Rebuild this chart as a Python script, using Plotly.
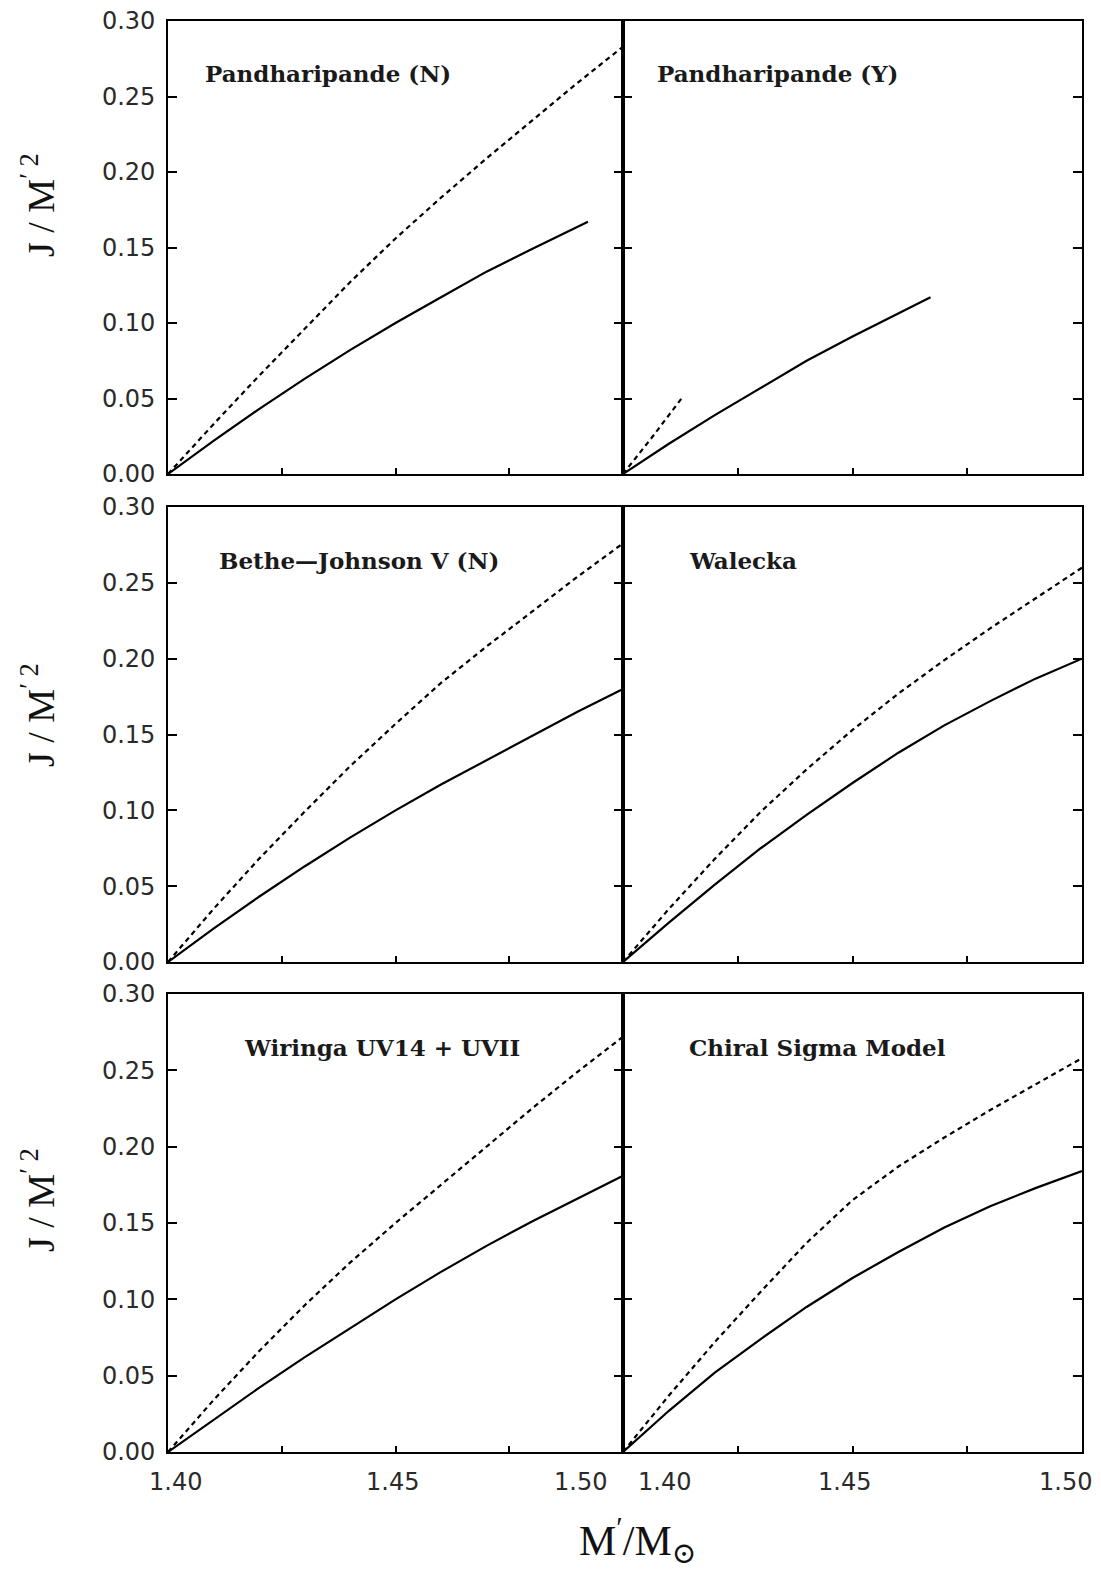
import plotly.graph_objects as go

# ---------------- data ----------------
x_full = [1.40, 1.41, 1.42, 1.43, 1.44, 1.45, 1.46, 1.47, 1.48, 1.49, 1.50]

# Pandharipande (N)
pn_dash_x = x_full
pn_dash_y = [0.000, 0.033, 0.065, 0.096, 0.127, 0.156, 0.183, 0.209, 0.234, 0.259, 0.283]
pn_solid_x = [1.40, 1.41, 1.42, 1.43, 1.44, 1.45, 1.46, 1.47, 1.48, 1.4923]
pn_solid_y = [0.000, 0.022, 0.043, 0.063, 0.082, 0.100, 0.117, 0.134, 0.149, 0.167]

# Pandharipande (Y)
py_dash_x = [1.40, 1.4065, 1.413]
py_dash_y = [0.000, 0.025, 0.051]
py_solid_x = [1.40, 1.41, 1.42, 1.43, 1.44, 1.45, 1.46, 1.467]
py_solid_y = [0.000, 0.020, 0.039, 0.057, 0.075, 0.091, 0.106, 0.117]

# Bethe-Johnson V (N)
bj_dash_x = x_full
bj_dash_y = [0.000, 0.035, 0.068, 0.099, 0.129, 0.157, 0.184, 0.208, 0.231, 0.254, 0.276]
bj_solid_x = x_full
bj_solid_y = [0.000, 0.022, 0.043, 0.063, 0.082, 0.100, 0.117, 0.133, 0.149, 0.165, 0.180]

# Walecka
wa_dash_x = x_full
wa_dash_y = [0.000, 0.035, 0.068, 0.099, 0.127, 0.153, 0.177, 0.199, 0.220, 0.240, 0.260]
wa_solid_x = x_full
wa_solid_y = [0.000, 0.026, 0.051, 0.075, 0.097, 0.118, 0.138, 0.156, 0.172, 0.187, 0.200]

# Wiringa UV14 + UVII
wi_dash_x = x_full
wi_dash_y = [0.000, 0.034, 0.066, 0.096, 0.124, 0.150, 0.175, 0.200, 0.225, 0.249, 0.272]
wi_solid_x = x_full
wi_solid_y = [0.000, 0.021, 0.042, 0.062, 0.081, 0.100, 0.118, 0.135, 0.151, 0.166, 0.181]

# Chiral Sigma Model
cs_dash_x = x_full
cs_dash_y = [0.000, 0.037, 0.072, 0.105, 0.137, 0.165, 0.187, 0.206, 0.224, 0.241, 0.258]
cs_solid_x = x_full
cs_solid_y = [0.000, 0.027, 0.052, 0.074, 0.095, 0.114, 0.131, 0.147, 0.161, 0.173, 0.184]

panel_titles = ["Pandharipande (N)", "Pandharipande (Y)",
                "Bethe\u2014Johnson V (N)", "Walecka",
                "Wiringa UV14 + UVII", "Chiral Sigma Model"]
title_x = [1.4077, 1.4070, 1.4108, 1.4140, 1.4163, 1.4140]

panels = [
    (pn_dash_x, pn_dash_y, pn_solid_x, pn_solid_y),
    (py_dash_x, py_dash_y, py_solid_x, py_solid_y),
    (bj_dash_x, bj_dash_y, bj_solid_x, bj_solid_y),
    (wa_dash_x, wa_dash_y, wa_solid_x, wa_solid_y),
    (wi_dash_x, wi_dash_y, wi_solid_x, wi_solid_y),
    (cs_dash_x, cs_dash_y, cs_solid_x, cs_solid_y),
]

y_ticks = [0.00, 0.05, 0.10, 0.15, 0.20, 0.25, 0.30]
x_tick_labels = ["1.40", "1.45", "1.50"]
x_tick_vals = [1.40, 1.45, 1.50]

# ---------------- layout geometry ----------------
# page body has an 8px margin; figure is sized so that it fits the window
OFF = 8
W, H = 1101 - 2 * OFF, 1577 - 2 * OFF


def px_x(p):
    return (p - OFF) / W


def px_y(p):
    return 1 - (p - OFF) / H


col_px = [(168, 623), (623, 1082)]
row_px = [(21, 474), (507, 962), (994, 1452)]

fig = go.Figure()
layout = dict(
    width=W, height=H, margin=dict(l=0, r=0, t=0, b=0, autoexpand=False),
    paper_bgcolor="white", plot_bgcolor="white", showlegend=False,
)
annotations = []

tick_font = dict(family="DejaVu Sans", size=24, color="#2a2a2a")
serif = "Liberation Serif, DejaVu Serif, serif"

for i, (dx, dy, sx, sy) in enumerate(panels):
    r, c = divmod(i, 2)
    n = i + 1
    xa = f"x{n}" if n > 1 else "x"
    ya = f"y{n}" if n > 1 else "y"
    fig.add_trace(go.Scatter(x=dx, y=dy, mode="lines", xaxis=xa, yaxis=ya,
                             line=dict(color="black", width=2.2, dash="5px,4px")))
    fig.add_trace(go.Scatter(x=sx, y=sy, mode="lines", xaxis=xa, yaxis=ya,
                             line=dict(color="black", width=2.2)))
    x0, x1 = col_px[c]
    yt, yb = row_px[r]
    layout[f"xaxis{n if n > 1 else ''}"] = dict(
        domain=[px_x(x0), px_x(x1)], range=[1.40, 1.50], anchor=ya,
        showline=True, linecolor="black", linewidth=1.8, mirror=True,
        ticks="inside", tick0=1.40, dtick=0.025, ticklen=6, tickwidth=1.5,
        tickcolor="black", showticklabels=False, showgrid=False, zeroline=False,
        automargin=False,
    )
    layout[f"yaxis{n if n > 1 else ''}"] = dict(
        domain=[px_y(yb), px_y(yt)], range=[0, 0.30], anchor=xa,
        showline=True, linecolor="black", linewidth=1.6, mirror="ticks",
        ticks="inside", tickvals=y_ticks, ticklen=9, tickwidth=1.5,
        tickcolor="black", showticklabels=(c == 0), tickformat=".2f",
        tickfont=tick_font, ticklabelstandoff=6, ticklabeloverflow="allow",
        showgrid=False, zeroline=False, automargin=False,
    )
    # panel label
    annotations.append(dict(
        x=title_x[i], y=0.265, xref=xa, yref=ya, xanchor="left", yanchor="middle",
        text=panel_titles[i], showarrow=False,
        font=dict(family="DejaVu Serif", size=23, color="#1a1a1a", weight="bold"),
    ))
    # x tick labels on bottom row
    if r == 2:
        shifts = [7, -3, -43] if c == 0 else [41, -8, -17]
        for v, t, s in zip(x_tick_vals, x_tick_labels, shifts):
            annotations.append(dict(
                x=v, y=0, xref=xa, yref=ya, xanchor="center", yanchor="middle",
                xshift=s, yshift=-30, text=t, showarrow=False, font=tick_font,
            ))

# y-axis titles
for yc in [205, 715, 1200]:
    annotations.append(dict(
        x=px_x(38), y=px_y(yc), xref="paper", yref="paper",
        xanchor="center", yanchor="middle", textangle=-90,
        text="J / M<sup>\u2032 2</sup>", showarrow=False,
        font=dict(family=serif, size=38, color="#111"),
    ))

# x-axis title
annotations.append(dict(
    x=px_x(637), y=px_y(1540), xref="paper", yref="paper",
    xanchor="center", yanchor="middle",
    text="M<sup>\u2032</sup>/M<sub>\u2299</sub>", showarrow=False,
    font=dict(family=serif, size=42, color="#111"),
))

layout["annotations"] = annotations
fig.update_layout(**layout)
fig.write_html("out.html")
